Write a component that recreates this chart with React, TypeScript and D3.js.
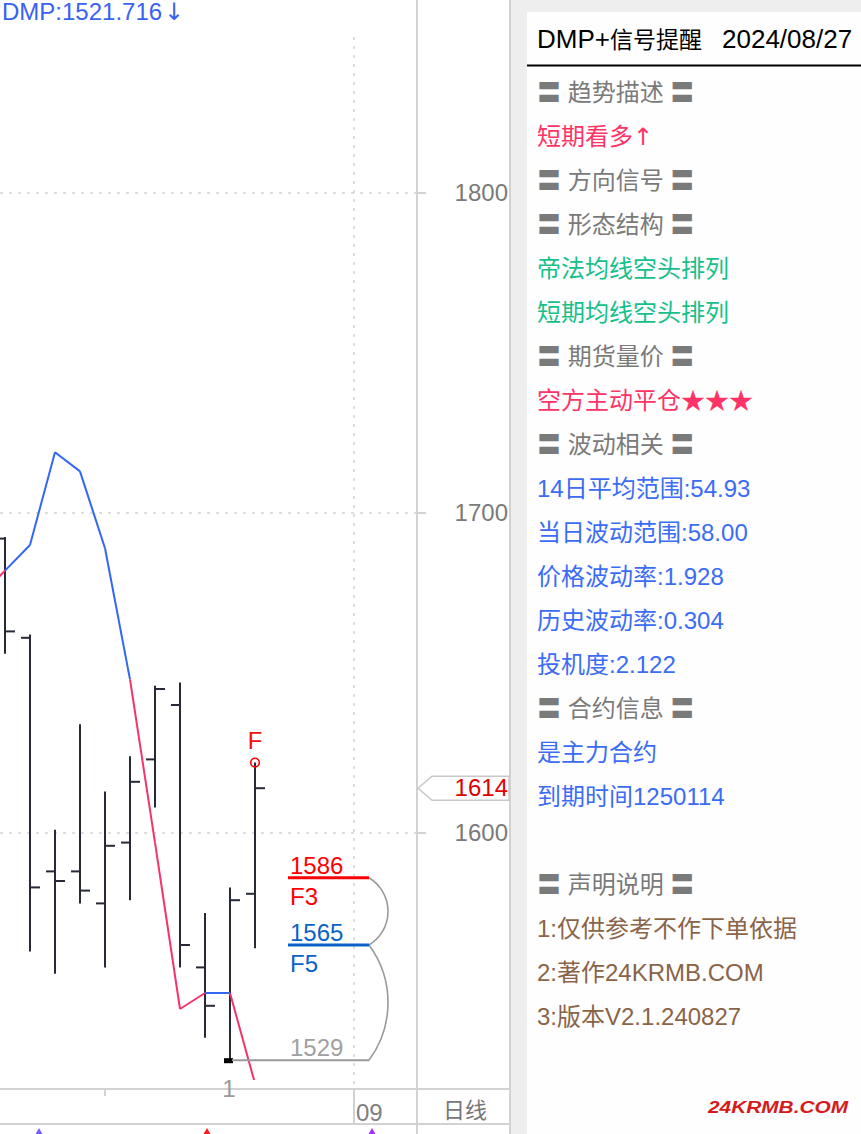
import React from "react";
import * as d3 from "d3";

const W = 861;
const H = 1134;

// ---- data (daily bars, last = 2024/08/27) ----
const dates = ["08/12", "08/13", "08/14", "08/15", "08/16", "08/19", "08/20", "08/21", "08/22", "08/23", "08/26", "08/27"];
const opens: (number | null)[] = [null, 1692, 1661, 1588, 1588, 1578, 1597, 1623, 1640, 1558, 1550, 1581];
const highs: (number | null)[] = [null, 1692.5, 1662, 1601, 1634, 1613, 1624, 1646, 1647, 1575, 1583, 1622];
const lows: (number | null)[] = [null, 1656, 1563, 1556, 1578, 1558, 1579, 1608, 1558, 1536, 1529, 1564];
const closes: (number | null)[] = [null, 1663, 1583, 1585, 1582, 1596, 1616, 1645, 1565, 1546, 1579, 1614];
const dmpValues = [1674, 1682, 1690, 1719, 1713, 1689, 1648, 1597, 1545, 1550, 1550, 1521.716];
const dmpSegTrend = ["dn", "up", "up", "up", "up", "up", "dn", "dn", "dn", "up", "dn"];

const yTicks = [1600, 1700, 1800];
const lastPrice = 1614;
const lowIndex = 10;
const lowValue = 1529;
const signalIndex = 11;
const fibLabels = ["F3", "F5"];
const fibValues = [1586, 1565];
const monthLabelIndex = 15; // 09/02
const weekTickIndex = 5;

// partly hidden indicator-row arrow marks at the bottom edge (x in px of the strip)
const bottomMarks: [number, string][] = [
  [39, "#7a5cff"],
  [207, "#ff1a1a"],
  [372, "#a033ff"],
];

const titleName = "DMP+信号提醒";
const titleDate = "2024/08/27";
const panelRows: [string, string, string?][] = [
  ["〓 趋势描述 〓", "head"],
  ["短期看多", "pink", "↑"],
  ["〓 方向信号 〓", "head"],
  ["〓 形态结构 〓", "head"],
  ["帝法均线空头排列", "green"],
  ["短期均线空头排列", "green"],
  ["〓 期货量价 〓", "head"],
  ["空方主动平仓★★★", "pink"],
  ["〓 波动相关 〓", "head"],
  ["14日平均范围:54.93", "blue"],
  ["当日波动范围:58.00", "blue"],
  ["价格波动率:1.928", "blue"],
  ["历史波动率:0.304", "blue"],
  ["投机度:2.122", "blue"],
  ["〓 合约信息 〓", "head"],
  ["是主力合约", "blue"],
  ["到期时间1250114", "blue"],
  ["", "head"],
  ["〓 声明说明 〓", "head"],
  ["1:仅供参考不作下单依据", "brown"],
  ["2:著作24KRMB.COM", "brown"],
  ["3:版本V2.1.240827", "brown"],
];

const COLORS: Record<string, string> = {
  head: "#7a7a7a",
  pink: "#ff3366",
  green: "#16c08a",
  blue: "#3b6cf5",
  brown: "#8a6449",
};

const FONT = "'Liberation Sans', Arial, 'Noto Sans CJK SC', sans-serif";
const ARROW_FONT = "'DejaVu Sans', sans-serif";
const GRID = "#d2d2d2";

export default function App() {
  const x = d3.scaleLinear().domain([1, 2]).range([5, 30]);
  const y = d3.scaleLinear().domain([1600, 1800]).range([833, 193]);

  const plotRight = 417;
  const axisRight = 510;
  const plotBottom = 1089;
  const axisBottom = 1124;

  const bars = dates
    .map((d, i) => ({ i, o: opens[i], h: highs[i], l: lows[i], c: closes[i] }))
    .filter((b) => b.o != null);

  const dmpPts = dmpValues.map((v, i) => [x(i), y(v)] as [number, number]);
  const line = d3.line();

  const fx0 = x(signalIndex) + 33;
  const fx1 = x(signalIndex) + 114;
  const fibYs = fibValues.map((v) => y(v));
  const baseY = y(lowValue);
  const arcPath = (y0: number, y1: number, bulge: number) => {
    const half = (y1 - y0) / 2;
    const r = (half * half + bulge * bulge) / (2 * bulge);
    return `M${fx1},${y0} A${r},${r} 0 0 1 ${fx1},${y1}`;
  };
  const fibColors = ["#ff0000", "#0a62c8"];

  const tagY = y(lastPrice);
  const lastDmp = dmpValues[dmpValues.length - 1];

  return (
    <svg
      width={W}
      height={H}
      style={{ position: "absolute", left: 0, top: 0, background: "#fff" }}
      fontFamily={FONT}
    >
      <defs>
        <clipPath id="plotClip">
          <rect x={0} y={0} width={plotRight} height={1080} />
        </clipPath>
      </defs>
      {/* right gray background + panel */}
      <rect x={axisRight} y={0} width={W - axisRight} height={H} fill="#eeeeee" />
      <rect x={527} y={12} width={W - 527} height={H - 12} fill="#fefefe" />

      {/* horizontal grid */}
      {yTicks.map((t) => (
        <g key={t}>
          <line x1={0} x2={plotRight} y1={y(t)} y2={y(t)} stroke="#bdbdbd" strokeDasharray="3,6" />
          <line x1={plotRight} x2={plotRight + 9} y1={y(t)} y2={y(t)} stroke={GRID} strokeWidth={2} />
          <text x={508} y={y(t) + 8} textAnchor="end" fontSize={24} fill="#7a7a7a">
            {t}
          </text>
        </g>
      ))}

      {/* vertical month grid */}
      <line
        x1={x(monthLabelIndex) - 1}
        x2={x(monthLabelIndex) - 1}
        y1={37}
        y2={plotBottom}
        stroke="#bdbdbd"
        strokeDasharray="3,6"
      />

      {/* frame */}
      <line x1={plotRight} x2={plotRight} y1={0} y2={H} stroke={GRID} strokeWidth={2} />
      <line x1={axisRight} x2={axisRight} y1={0} y2={H} stroke={GRID} strokeWidth={2} />
      <line x1={0} x2={axisRight} y1={plotBottom} y2={plotBottom} stroke={GRID} strokeWidth={2} />
      <line x1={0} x2={axisRight} y1={axisBottom} y2={axisBottom} stroke={GRID} strokeWidth={2} />
      <line
        x1={x(monthLabelIndex) - 1}
        x2={x(monthLabelIndex) - 1}
        y1={plotBottom}
        y2={axisBottom}
        stroke={GRID}
        strokeWidth={2}
      />
      <line
        x1={x(weekTickIndex)}
        x2={x(weekTickIndex)}
        y1={plotBottom}
        y2={plotBottom + 7}
        stroke={GRID}
        strokeWidth={2}
      />

      {/* OHLC bars */}
      {bars.map((b) => {
        const cx = x(b.i);
        return (
          <g key={b.i} stroke="#272a36" strokeWidth={2}>
            <line x1={cx} x2={cx} y1={y(b.h as number)} y2={y(b.l as number)} />
            <line x1={cx - 9} x2={cx} y1={y(b.o as number)} y2={y(b.o as number)} />
            <line x1={cx} x2={cx + 10} y1={y(b.c as number)} y2={y(b.c as number)} />
          </g>
        );
      })}

      {/* DMP line */}
      <g clipPath="url(#plotClip)">
        {dmpSegTrend.map((t, i) => (
          <path
            key={i}
            d={line([dmpPts[i], dmpPts[i + 1]]) as string}
            stroke={t === "up" ? "#3366f5" : "#f5336b"}
            strokeWidth={2}
            fill="none"
          />
        ))}
      </g>

      {/* low marker */}
      <rect x={x(lowIndex) - 6} y={y(lowValue) - 2} width={9} height={5} fill="#000" />

      {/* signal F */}
      <circle cx={x(signalIndex)} cy={y(highs[signalIndex] as number)} r={4.3} fill="none" stroke="#ff0000" strokeWidth={1.6} />
      <text x={x(signalIndex)} y={y(highs[signalIndex] as number) - 14} textAnchor="middle" fontSize={24} fill="#f01010">
        F
      </text>

      {/* fib levels */}
      <line x1={x(lowIndex) + 2} x2={fx1} y1={baseY} y2={baseY} stroke="#9a9a9a" strokeWidth={2} />
      <path d={arcPath(fibYs[0], fibYs[1], 19)} stroke="#9a9a9a" strokeWidth={1.6} fill="none" />
      <path d={arcPath(fibYs[1], baseY, 19)} stroke="#9a9a9a" strokeWidth={1.6} fill="none" />
      <text x={fx0 + 2} y={baseY - 4} fontSize={24} fill="#a0a0a0">
        {lowValue}
      </text>
      {fibValues.map((v, i) => (
        <g key={v}>
          <line x1={fx0} x2={fx1} y1={fibYs[i]} y2={fibYs[i]} stroke={fibColors[i]} strokeWidth={3} />
          <text x={fx0 + 2} y={fibYs[i] - 4} fontSize={24} fill={fibColors[i]}>
            {v}
          </text>
          <text x={fx0 + 2} y={fibYs[i] + 27} fontSize={24} fill={fibColors[i]}>
            {fibLabels[i]}
          </text>
        </g>
      ))}

      {/* price tag */}
      <path
        d={`M${plotRight + 1},${tagY} L${432},${tagY - 12} L${509},${tagY - 12} L${509},${tagY + 12} L${432},${tagY + 12} Z`}
        fill="#fff"
        stroke="#c8c8c8"
        strokeWidth={1.5}
      />
      <text x={508} y={tagY + 8} textAnchor="end" fontSize={24} fill="#e00000">
        {lastPrice}
      </text>

      {/* x-axis labels */}
      <text x={x(lowIndex) - 1} y={1097} textAnchor="middle" fontSize={24} fill="#9a9a9a">
        1
      </text>
      <text x={x(monthLabelIndex) + 1} y={1121} fontSize={24} fill="#808080">
        09
      </text>
      <text x={465} y={1118} textAnchor="middle" fontSize={22} fill="#777">
        日线
      </text>

      {/* bottom indicator row, almost fully cut off */}
      {bottomMarks.map(([mx, c]) => (
        <path key={mx} d={`M${mx},${1128} L${mx + 4},${1135} L${mx - 4},${1135} Z`} fill={c} />
      ))}

      {/* DMP label */}
      <text x={2} y={20} fontSize={24} fill="#3a62f0">
        {`DMP:${lastDmp.toFixed(3)}`}
        <tspan fontFamily={ARROW_FONT} fontSize={24} dx={2}>
          ↓
        </tspan>
      </text>

      {/* right panel */}
      <text x={537} y={48} fontSize={26} fill="#000">
        DMP+
        <tspan fontSize={23}>{titleName.slice(4)}</tspan>
        <tspan x={722}>{titleDate}</tspan>
      </text>
      <line x1={527} x2={W} y1={65.5} y2={65.5} stroke="#000" strokeWidth={2} />
      {panelRows.map(([t, c, arrow], i) => (
        <text key={i} x={537} y={101 + 44 * i} fontSize={24} fill={COLORS[c]} style={{ whiteSpace: "pre" }}>
          {t}
          {arrow ? (
            <tspan fontFamily={ARROW_FONT} fontSize={24}>
              {arrow}
            </tspan>
          ) : null}
        </text>
      ))}

      {/* watermark */}
      <text
        x={708}
        y={1113}
        fontSize={16}
        fontWeight="bold"
        fontStyle="italic"
        fill="#d41c1c"
        textLength={140}
        lengthAdjust="spacingAndGlyphs"
      >
        24KRMB.COM
      </text>
    </svg>
  );
}
